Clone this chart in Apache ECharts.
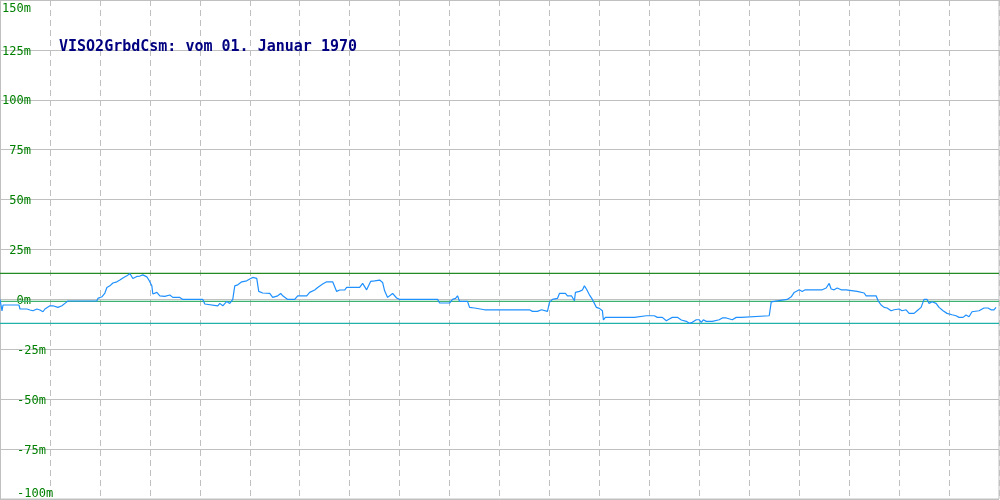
<!DOCTYPE html>
<html>
<head>
<meta charset="utf-8">
<script src="https://cdn.jsdelivr.net/npm/echarts@6/dist/echarts.min.js"></script>
<style>html,body{margin:0;padding:0;background:#fff}#c{width:1000px;height:500px}</style>
</head>
<body>
<div id="c"></div>
<script>
var titleText = 'VISO2GrbdCsm: vom 01. Januar 1970';
var yMin = -100, yMax = 150, yStep = 25;
var xMin = 0, xMax = 1000, xStep = 50;
var limitValues = [13, -1, -12];

var times = [0,1,2,3,19,20,27,28,30,33,35,37,40,43,45,47,50,53,58,62,65,68,97,98,102,105,107,110,113,117,120,123,127,130,133,137,140,143,147,149,152,153,157,160,165,170,173,180,183,203,205,207,218,220,223,227,230,233,235,238,242,247,250,253,257,259,263,270,273,274,278,281,283,288,295,298,307,310,315,318,323,327,333,337,340,345,347,349,353,360,363,365,367,371,375,380,383,385,388,393,397,400,403,404,406,430,432,435,438,440,450,453,456,458,460,468,470,475,477,485,487,490,530,533,535,538,542,544,548,550,553,558,560,566,568,572,575,576,580,583,585,587,590,593,595,597,600,603,604,606,635,637,647,649,651,653,655,658,663,667,670,673,678,682,687,690,693,697,700,702,704,707,713,715,720,723,727,729,733,737,742,743,770,772,773,778,780,788,792,795,800,803,806,808,812,823,827,830,832,835,838,842,847,848,858,860,865,867,877,879,882,885,888,892,895,897,900,903,907,910,915,918,922,925,928,930,933,937,940,944,948,953,957,960,964,967,970,973,980,985,989,992,995,997];
var values = [0,-0.2,-5.7,-2.8,-2.8,-4.8,-4.8,-4.3,-5.3,-5.7,-5.2,-4.8,-5.3,-6.2,-4.8,-4,-3.2,-3.2,-4,-3.2,-2,-0.8,-0.8,0.5,1.3,3.2,6,6.8,8.2,8.8,9.7,10.7,11.8,13,10.5,11.5,11.7,12.3,11.3,9.7,6.8,2.7,3.5,1.8,1.5,2.2,1,1,0,0,-2.3,-3.2,-3.2,-2,-3.2,-1,-2,0,6.8,7.3,8.8,9.3,10.2,11,10.5,4,3.2,3,1,1.8,1.8,3,1.8,0,0,1.8,1.8,3.5,4.7,6,7.7,8.8,8.8,4,4.7,4.7,6,5.2,6,6,8,7.7,4.8,9,9.3,9.7,8.5,4.3,1,3,0.7,0,0,1,0,0,-1,0,0,-1.8,-1.8,0,0.5,1.8,-1,-1,-4,-4.3,-5.2,-5.2,-6,-5.2,-5.2,-6,-5.2,-6,-5.2,-6,-6,-1.5,0,0.5,3,3,1.8,1.8,-0.7,3.5,4,4.7,6.8,5.2,2.3,0,-0.7,-4,-4.5,-5.7,-10.3,-9,-9,-8.2,-8.2,-7.3,-8.2,-7.3,-8.2,-9,-9,-10.7,-9.8,-9,-9,-10.3,-11,-12,-11.5,-10.2,-10.2,-11.5,-10.2,-11,-11,-10.2,-10.2,-9.3,-9.3,-10.2,-10.2,-9,-9,-8.2,-8.2,-1.2,-0.7,-0.7,0,0,1.3,3.5,4.8,4,4.8,4,4.8,4.8,5.7,8,5.2,4.8,5.7,4.8,4.8,4,4,3.2,3.2,1.8,1.8,-0.7,-2.8,-4,-4.3,-5.7,-5.2,-5.7,-4.8,-5.7,-5.2,-7,-7,-5.7,-4,0,0,-2,-1.2,-2,-4,-5.7,-7,-7.7,-8.2,-9,-9,-7.8,-8.7,-6.2,-5.7,-4.3,-4.3,-5.2,-5.2,-4];

var limitColors = ['#228b22', '#3cb371', '#20b2aa'];
var lineData = times.map(function (t, i) { return [t, values[i]]; });
var labelFont = 'DejaVu Sans Mono';
var labelColor = '#008000';

var limitSeries = limitValues.map(function (v, i) {
  return {
    type: 'line', data: [[xMin, v], [xMax, v]], showSymbol: false, symbol: 'none', silent: true, z: 1,
    color: limitColors[i],
    lineStyle: {color: limitColors[i], width: 1.2, opacity: 1}, itemStyle: {color: limitColors[i]}
  };
});

var chart = echarts.init(document.getElementById('c'), null, {renderer: 'canvas'});
chart.setOption({
  animation: false,
  backgroundColor: '#ffffff',
  title: {
    text: titleText, left: 59, top: 40, padding: 0,
    textStyle: {fontFamily: labelFont, fontSize: 15, fontWeight: 'bold', color: '#000080'}
  },
  grid: {left: 0, right: 1, top: 0, bottom: 1, show: true, borderColor: '#c0c0c0', borderWidth: 1,
         containLabel: false, outerBoundsMode: 'none'},
  xAxis: {
    type: 'value', min: xMin, max: xMax, interval: xStep,
    axisLine: {show: false}, axisTick: {show: false}, axisLabel: {show: false},
    splitLine: {show: true, lineStyle: {color: '#c0c0c0', width: 1, type: [6, 4]}}
  },
  yAxis: {
    type: 'value', min: yMin, max: yMax, interval: yStep,
    axisLine: {show: true, lineStyle: {color: '#c0c0c0', width: 2}},
    axisTick: {show: false},
    splitLine: {show: true, lineStyle: {color: '#c0c0c0', width: 1}},
    axisLabel: {
      inside: true, margin: 2, verticalAlign: 'middle',
      formatter: function (v) {
        var s = v + 'm';
        var tok = v >= 0 ? '{p|' + s + '}' : '{n|' + s + '}';
        if (v === yMax) return '{e| }\n' + tok;
        if (v === yMin) return tok + '\n{e| }';
        return tok;
      },
      rich: {
        p: {width: 29, align: 'right', padding: [3, 0, 0, 0], fontFamily: labelFont, fontSize: 12, color: labelColor, lineHeight: 14},
        n: {padding: [3, 0, 0, 15], fontFamily: labelFont, fontSize: 12, color: labelColor, lineHeight: 14},
        e: {fontFamily: labelFont, fontSize: 12, lineHeight: 14}
      }
    }
  },
  series: limitSeries.concat([{
    type: 'line', data: lineData, showSymbol: false, symbol: 'none', z: 3,
    lineStyle: {color: '#1e90ff', width: 1.2}, itemStyle: {color: '#1e90ff'}
  }])
});
</script>
</body>
</html>
